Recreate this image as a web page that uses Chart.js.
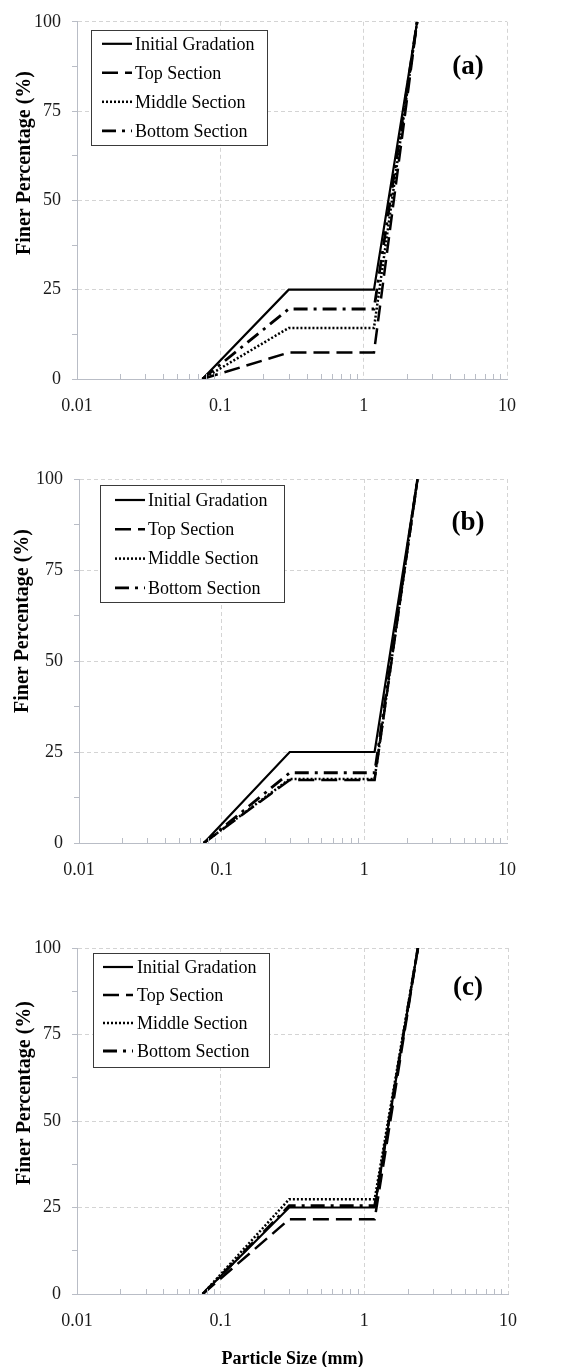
<!DOCTYPE html>
<html>
<head>
<meta charset="utf-8">
<script src="https://cdn.jsdelivr.net/npm/chart.js@4.4.1/dist/chart.umd.min.js"></script>
<style>
  html, body { margin: 0; padding: 0; background: #fff; }
  body { width: 573px; height: 1367px; overflow: hidden; position: relative; }
  canvas { position: absolute; left: 0; }
</style>
</head>
<body>
<canvas id="panelA" width="573" height="440" style="top:0px"></canvas>
<canvas id="panelB" width="573" height="460" style="top:440px"></canvas>
<canvas id="panelC" width="573" height="470" style="top:900px"></canvas>
<script>
const FONT = "'Liberation Serif', 'Times New Roman', serif";

// sieve sizes (mm) shared by all curves
const particleSize = [0.075, 0.3, 1.18, 2.36];
const seriesNames = ['Initial Gradation', 'Top Section', 'Middle Section', 'Bottom Section'];
const xTickValues = [0.01, 0.1, 1, 10];

// (a)
const initialA = [0, 25, 25, 100];
const topA = [0, 7.4, 7.4, 100];
const middleA = [0, 14.3, 14.3, 100];
const bottomA = [0, 19.6, 19.6, 100];

// (b)
const initialB = [0, 25, 25, 100];
const topB = [0, 17.3, 17.3, 100];
const middleB = [0, 17.6, 17.6, 100];
const bottomB = [0, 19.3, 19.3, 100];

// (c)
const initialC = [0, 25, 25, 100];
const topC = [0, 21.6, 21.6, 100];
const middleC = [0, 27.4, 27.4, 100];
const bottomC = [0, 25.5, 25.5, 100];

const lineStyles = [
    { dash: [], width: 2.2 },
    { dash: [16, 7], width: 2.5 },
    { dash: [2, 2], width: 2.5 },
    { dash: [14, 6, 3, 6], width: 2.8 }
];

const AXIS = '#b9bdc6';
const GRID = '#d4d4d4';

// draws minor x ticks, y title, panel letter and the boxed legend
const panelDecor = {
    id: 'panelDecor',
    afterDraw(chart, args, opts) {
        const ctx = chart.ctx;
        const area = chart.chartArea;
        const xs = chart.scales.x;

        ctx.save();
        ctx.strokeStyle = AXIS;
        ctx.lineWidth = 1;
        [0.01, 0.1, 1].forEach(dec => {
            for (let m = 2; m <= 9; m++) {
                const px = Math.round(xs.getPixelForValue(m * dec)) + 0.5;
                ctx.beginPath();
                ctx.moveTo(px, area.bottom);
                ctx.lineTo(px, area.bottom - 5);
                ctx.stroke();
            }
        });
        ctx.restore();

        ctx.save();
        ctx.fillStyle = '#000';
        ctx.font = 'bold 20px ' + FONT;
        ctx.textAlign = 'center';
        ctx.textBaseline = 'middle';
        ctx.translate(opts.titleX, opts.titleY);
        ctx.rotate(-Math.PI / 2);
        ctx.fillText('Finer Percentage (%)', 0, 0);
        ctx.restore();

        ctx.save();
        ctx.fillStyle = '#000';
        ctx.font = 'bold 27px ' + FONT;
        ctx.textAlign = 'center';
        ctx.textBaseline = 'middle';
        ctx.fillText(opts.label, opts.labelX, opts.labelY);
        ctx.restore();

        const lg = opts.legend;
        const bx = area.left + lg.dx;
        const by = area.top + lg.dy;
        ctx.save();
        ctx.fillStyle = '#fff';
        ctx.fillRect(bx, by, lg.w, lg.h);
        ctx.strokeStyle = '#3a3a3a';
        ctx.lineWidth = 1;
        ctx.strokeRect(Math.round(bx) + 0.5, Math.round(by) + 0.5, lg.w, lg.h);
        ctx.font = '18px ' + FONT;
        ctx.textAlign = 'left';
        ctx.textBaseline = 'middle';
        chart.data.datasets.forEach((ds, i) => {
            const ry = by + lg.row0 + i * lg.step;
            ctx.strokeStyle = '#000';
            ctx.lineWidth = ds.borderWidth;
            ctx.setLineDash(ds.borderDash);
            ctx.beginPath();
            ctx.moveTo(bx + lg.sx, ry);
            ctx.lineTo(bx + lg.sx + 30, ry);
            ctx.stroke();
            ctx.setLineDash([]);
            ctx.fillStyle = '#000';
            ctx.fillText(ds.label, bx + lg.tx, ry + 1);
        });
        ctx.restore();
    }
};

function makePanel(id, p, series) {
    const xAxisH = p.xTitle ? 76 : 40;
    const datasets = seriesNames.map((name, i) => ({
        label: name,
        data: particleSize.map((x, j) => ({ x: x, y: series[i][j] })),
        borderColor: '#000',
        borderWidth: lineStyles[i].width,
        borderDash: lineStyles[i].dash,
        pointRadius: 0,
        fill: false,
        tension: 0
    }));

    return new Chart(document.getElementById(id), {
        type: 'line',
        data: { datasets: datasets },
        plugins: [panelDecor],
        options: {
            responsive: false,
            animation: false,
            layout: {
                padding: {
                    left: 0,
                    top: p.plot.top - p.canvasTop,
                    right: 573 - p.plot.right,
                    bottom: p.canvasH - (p.plot.bottom - p.canvasTop) - xAxisH
                }
            },
            scales: {
                x: {
                    type: 'logarithmic',
                    min: 0.01,
                    max: 10,
                    afterBuildTicks: s => { s.ticks = xTickValues.map(v => ({ value: v })); },
                    afterFit: s => { s.height = xAxisH; },
                    grid: { color: GRID, lineWidth: 1, drawTicks: false },
                    border: { color: AXIS, dash: [4, 3] },
                    ticks: {
                        callback: v => String(v),
                        padding: 16,
                        maxRotation: 0,
                        autoSkip: false,
                        color: '#1a1a1a',
                        font: { family: FONT, size: 18 }
                    },
                    title: {
                        display: !!p.xTitle,
                        text: 'Particle Size (mm)',
                        color: '#000',
                        padding: 0,
                        font: { family: FONT, size: 18, weight: 'bold' }
                    }
                },
                y: {
                    min: 0,
                    max: 100,
                    afterFit: s => { s.width = p.plot.left; },
                    grid: {
                        color: c => (c.tick && c.tick.value % 25 === 0) ? GRID : 'rgba(0,0,0,0)',
                        lineWidth: 1,
                        tickLength: 5,
                        tickColor: AXIS,
                        tickWidth: 1
                    },
                    border: { color: AXIS, dash: [4, 3] },
                    ticks: {
                        stepSize: 12.5,
                        callback: v => (v % 25 === 0 ? v : ''),
                        padding: 11,
                        color: '#1a1a1a',
                        font: { family: FONT, size: 18 }
                    }
                }
            },
            plugins: {
                legend: { display: false },
                tooltip: { enabled: false },
                panelDecor: {
                    titleX: p.titleX,
                    titleY: p.titleY - p.canvasTop,
                    label: p.label,
                    labelX: p.labelX,
                    labelY: p.labelY - p.canvasTop,
                    legend: p.legend
                }
            }
        }
    });
}

makePanel('panelA', {
    canvasTop: 0, canvasH: 440,
    plot: { left: 77, right: 507, top: 18, bottom: 379 },
    titleX: 25, titleY: 163,
    label: '(a)', labelX: 468, labelY: 67,
    legend: { dx: 14, dy: 8, w: 176, h: 115, row0: 14, step: 29, sx: 11, tx: 44 }
}, [initialA, topA, middleA, bottomA]);

makePanel('panelB', {
    canvasTop: 440, canvasH: 460,
    plot: { left: 79, right: 507, top: 479, bottom: 843 },
    titleX: 23, titleY: 621,
    label: '(b)', labelX: 468, labelY: 523,
    legend: { dx: 21, dy: 6, w: 184, h: 117, row0: 15, step: 29.3, sx: 15, tx: 48 }
}, [initialB, topB, middleB, bottomB]);

makePanel('panelC', {
    canvasTop: 900, canvasH: 470,
    plot: { left: 77, right: 508, top: 948, bottom: 1294 },
    titleX: 25, titleY: 1093,
    label: '(c)', labelX: 468, labelY: 988,
    legend: { dx: 16, dy: 5, w: 176, h: 114, row0: 14, step: 28, sx: 10, tx: 44 },
    xTitle: true
}, [initialC, topC, middleC, bottomC]);
</script>
</body>
</html>
